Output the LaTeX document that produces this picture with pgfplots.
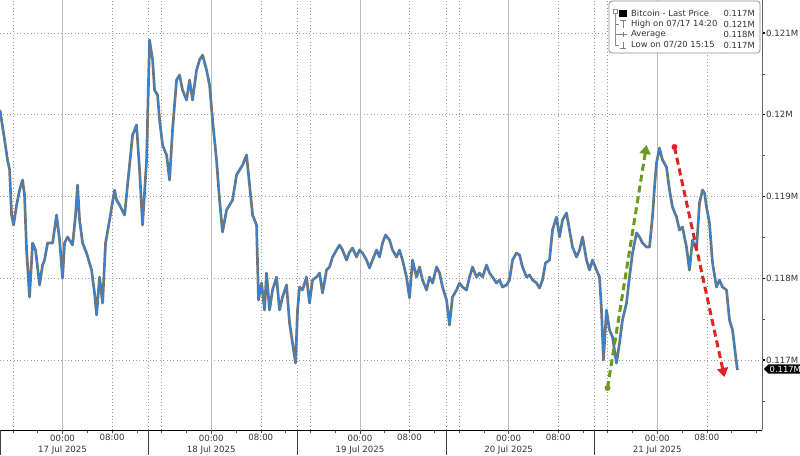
\documentclass[border=0pt]{standalone}
\usepackage{pgfplots}
\usepackage{pgfplotstable}
\pgfplotsset{compat=1.18}
\usepackage{fontspec}
\setmainfont{DejaVu Sans}
\usetikzlibrary{shapes.symbols,arrows.meta}
\definecolor{pxblue}{HTML}{2E86DE}
\definecolor{gridc}{HTML}{9A9A9A}
\definecolor{solidc}{HTML}{BDBDBD}
\definecolor{arrgreen}{HTML}{6A9A1F}
\definecolor{arrred}{HTML}{E02424}
\definecolor{txt}{HTML}{333333}

\pgfplotstableread{
h price
-10.1 120058
-9.68 119850
-9.36 119691
-8.88 119447
-8.55 119324
-8.23 118774
-7.91 118651
-7.42 118896
-6.94 119080
-6.46 119202
-6.14 119018
-5.81 118346
-5.33 117771
-4.84 118431
-4.36 118346
-3.71 117918
-3.23 118162
-2.91 118223
-2.42 118431
-1.61 118431
-0.97 118774
-0.48 118468
0 118003
0.32 118431
0.81 118505
1.61 118407
2.10 118774
2.42 119141
2.74 118713
3.23 118431
3.87 118309
4.68 118101
5.16 117820
5.49 117551
5.97 118015
6.46 117697
6.94 118431
7.59 118713
8.39 119080
8.72 118957
9.20 118896
10.01 118774
10.81 119385
11.30 119752
11.94 119875
12.43 119324
12.91 118651
13.56 119447
14.04 120914
14.53 120670
14.85 120303
15.33 120242
15.66 119936
16.14 119630
16.79 119508
17.27 119202
17.75 119814
18.40 120425
18.88 120486
19.37 120303
20.01 120180
20.50 120425
20.98 120180
21.63 120547
22.11 120670
22.60 120731
23.24 120547
23.73 120364
24.21 119936
24.85 119447
25.34 118957
25.82 118566
26.47 118835
27.44 118957
28.08 119263
29.05 119385
29.70 119508
30.18 119141
30.67 118774
31.31 118651
31.63 117734
32.12 117942
32.60 117612
32.92 118064
33.41 117612
33.89 117856
34.54 118015
35.02 117612
35.51 117771
36.15 117918
36.64 117453
37.12 117208
37.61 116963
37.93 117612
38.25 117893
38.73 117856
39.38 118015
39.86 117697
40.35 117979
40.99 118015
41.48 118064
41.96 117820
42.61 118101
43.09 118138
43.58 118260
44.22 118346
44.71 118407
45.19 118346
45.84 118223
46.32 118321
46.80 118370
47.45 118260
47.93 118346
48.42 118309
49.06 118223
49.55 118126
50.03 118223
50.68 118346
51.16 118260
51.65 118431
52.13 118529
52.78 118468
53.26 118346
53.91 118260
54.39 118346
54.87 118223
55.52 118015
56.00 117759
56.49 118223
57.13 118015
57.62 118138
58.10 117979
58.75 117856
59.23 118015
59.72 117942
60.36 118138
60.85 118064
61.33 117893
61.98 117734
62.46 117428
62.94 117771
63.59 117856
64.07 117942
64.56 117893
65.20 117856
65.69 118015
66.17 118138
66.82 118015
67.30 118064
67.79 118015
68.43 118162
68.92 118064
69.40 118015
70.05 117942
70.53 117979
71.01 117893
71.66 117918
72.14 117979
72.63 118223
73.27 118309
73.76 118285
74.24 118138
74.89 118015
75.37 118040
75.86 117979
76.50 117942
76.99 117881
77.47 117979
77.95 118187
78.60 118223
79.08 118590
79.73 118749
80.21 118505
80.70 118713
81.34 118798
81.83 118590
82.31 118382
82.96 118260
83.44 118346
83.93 118505
84.57 118223
85.05 118101
85.54 118223
86.18 118101
86.67 118015
86.99 117612
87.31 117000
87.80 117612
88.28 117367
88.77 117281
89.41 116963
89.90 117208
90.38 117490
91.03 117697
91.51 118015
92.00 118309
92.64 118554
93.13 118505
93.61 118431
94.25 118382
94.74 118382
95.22 118749
95.55 119116
95.87 119410
96.35 119593
96.84 119447
97.48 119361
97.97 119080
98.45 118872
99.10 118749
99.58 118590
100.06 118627
100.71 118382
101.19 118101
101.68 118468
102.32 118346
102.81 118921
103.29 119080
103.62 119043
103.94 118872
104.42 118676
104.91 118187
105.55 117893
106.04 117979
106.52 117893
107.17 117856
107.65 117490
108.14 117367
108.78 116963
108.94 116878
}\btc

\begin{document}
\begin{tikzpicture}[font=\fontsize{8.6}{11}\selectfont]
\begin{axis}[
  at={(0pt,0pt)}, anchor=north west,
  scale only axis, width=762pt, height=430pt,
  xmin=-10.1, xmax=112.9, ymin=116144, ymax=121404,
  axis x line*=bottom, axis y line*=right,
  axis line style={-},
  x axis line style={black, line width=0.8pt},
  y axis line style={black!60, line width=0.8pt},
  clip=false,
  scaled x ticks=false, scaled y ticks=false,
  /pgf/number format/assume math mode=true,
  tick align=outside,
  xtick={8,32,56,80,104},
  xticklabels={08:00,08:00,08:00,08:00,08:00},
  extra x ticks={0,24,48,72,96},
  extra x tick labels={{00:00\\17 Jul 2025},{00:00\\18 Jul 2025},{00:00\\19 Jul 2025},{00:00\\20 Jul 2025},{00:00\\21 Jul 2025}},
  extra x tick style={grid=major, major grid style={solidc, solid, line width=0.7pt}, major tick length=3.5pt},
  minor xtick={-8,-4,4,12,16,20,28,36,40,44,52,60,64,68,76,84,88,92,100,108,112},
  xmajorgrids, ymajorgrids,
  major grid style={gridc, line width=0.6pt, dash pattern=on 0.8pt off 2.6pt},
  major tick length=3pt, minor tick length=3pt,
  every tick/.style={black!70, line width=0.6pt},
  xticklabel style={align=center, text=txt, font=\fontsize{8.6}{11}\selectfont, inner sep=1pt, yshift=0pt},
  ytick={117000,118000,119000,120000,121000},
  yticklabels={0.117M,0.118M,0.119M,0.12M,0.121M},
  minor ytick={116500,117500,118500,119500,120500},
  yticklabel style={text=txt, font=\fontsize{8.6}{9}\selectfont, inner sep=1pt},
  every major y tick/.style={black, line width=1.3pt},
]
\pgfplotsinvokeforeach{-8,13.9,16,37.9,40,61.9,64,85.9,88}{
  \draw[gridc, line width=0.6pt, dash pattern=on 0.8pt off 2.6pt] (axis cs:#1,116144) -- (axis cs:#1,121404);
}
\pgfplotsinvokeforeach{-10.1,13.9,37.9,61.9,85.9}{
  \draw[black!75, line width=0.7pt] (axis cs:#1,116144) -- ++(0pt,-25pt);
}
\addplot[black!55, line width=2.7pt, line join=round] table[x=h, y=price] {\btc};
\addplot[pxblue, line width=1pt, line join=round] table[x=h, y=price] {\btc};

\draw[arrgreen, line width=3pt, dash pattern=on 7pt off 4pt, -{Triangle[length=9pt, width=11pt]}] (axis cs:87.96,116658) -- (axis cs:94.26,119630);
\fill[arrgreen] (axis cs:87.96,116658) circle (3pt);
\draw[arrred, line width=3pt, dash pattern=on 7pt off 4pt, -{Triangle[length=9pt, width=11pt]}] (axis cs:98.77,119606) -- (axis cs:106.84,116792);
\fill[arrred] (axis cs:98.77,119606) circle (3pt);
\end{axis}

% last price tag
\node[signal, signal to=west, fill=black, text=white, inner xsep=1.2pt, inner ysep=1.5pt, anchor=west, font=\fontsize{8.4}{9}\selectfont] at (763.5pt,-369pt) {0.117M};

% legend box
\draw[rounded corners=3pt, draw=black!45, fill=white, line width=0.7pt] (609pt,-1pt) rectangle (760pt,-53pt);
\begin{scope}[font=\fontsize{8.4}{10}\selectfont, text=txt]
\node[anchor=west, inner sep=0pt] at (631pt,-13pt) {Bitcoin - Last Price};
\node[anchor=east, inner sep=0pt] at (755pt,-13pt) {0.117M};
\node[anchor=west, inner sep=0pt] at (631pt,-24pt) {High on 07/17 14:20};
\node[anchor=east, inner sep=0pt] at (755pt,-24pt) {0.121M};
\node[anchor=west, inner sep=0pt] at (631pt,-34.5pt) {Average};
\node[anchor=east, inner sep=0pt] at (755pt,-34.5pt) {0.118M};
\node[anchor=west, inner sep=0pt] at (631pt,-45pt) {Low on 07/20 15:15};
\node[anchor=east, inner sep=0pt] at (755pt,-45pt) {0.117M};
\end{scope}
\draw[black!45, line width=0.5pt] (613.5pt,-9.5pt) rectangle (617pt,-13pt);
\draw[black!45, line width=0.5pt] (615.3pt,-13pt) -- (615.3pt,-45pt) -- (619pt,-45pt);
\draw[black!45, line width=0.5pt] (615.3pt,-24pt) -- (619pt,-24pt);
\draw[black!45, line width=0.5pt] (615.3pt,-34.5pt) -- (619pt,-34.5pt);
\fill[black] (619pt,-9.5pt) rectangle (627pt,-16.5pt);
\draw[black!50, line width=0.6pt] (620pt,-20.5pt) -- (626pt,-20.5pt) (623pt,-20.5pt) -- (623pt,-27.5pt);
\draw[black!50, line width=0.6pt] (619pt,-34.5pt) -- (627pt,-34.5pt) (623pt,-32pt) -- (623pt,-37pt);
\draw[black!50, line width=0.6pt] (623pt,-41.5pt) -- (623pt,-48pt) (620pt,-48pt) -- (626pt,-48pt);

\pgfresetboundingbox
\useasboundingbox (0pt,0pt) rectangle (800pt,-455pt);
\end{tikzpicture}
\end{document}
